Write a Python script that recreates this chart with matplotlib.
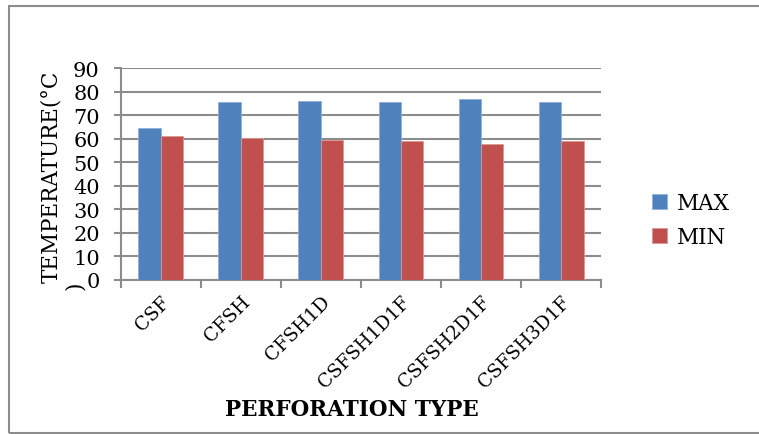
import numpy as np
import matplotlib
matplotlib.use("Agg")
import matplotlib.pyplot as plt
from matplotlib.patches import Rectangle

# data
categories = ["CSF", "CFSH", "CFSH1D", "CSFSH1D1F", "CSFSH2D1F", "CSFSH3D1F"]
max_temp = [64.6, 75.6, 76.1, 75.5, 76.9, 75.5]
min_temp = [61.0, 60.2, 59.6, 59.2, 57.6, 59.2]
y_ticks = [0, 10, 20, 30, 40, 50, 60, 70, 80, 90]

plt.rcParams['font.family'] = ['DejaVu Serif']

fig = plt.figure(figsize=(7.59, 4.35), dpi=100)
ax = fig.add_axes([0.159, 0.3547, 0.633, 0.486])

x = np.arange(len(categories))
w = 0.28
ax.bar(x - w / 2, max_temp, w, color="#4F81BD", edgecolor="#8FB0DC", linewidth=0.6, label="MAX", zorder=3)
ax.bar(x + w / 2, min_temp, w, color="#C0504D", edgecolor="#DA9694", linewidth=0.6, label="MIN", zorder=3)

ax.set_xlim(-0.5, len(categories) - 0.5)
ax.set_ylim(0, 90)
ax.set_yticks(y_ticks)
ax.set_yticklabels([str(v) for v in y_ticks], fontsize=15)
ax.yaxis.grid(True, color="#8C8C8C", linewidth=1.5, zorder=0)
ax.set_axisbelow(True)

# x ticks between categories, labels at centers
ax.set_xticks(np.arange(-0.5, len(categories), 1.0))
ax.set_xticklabels([])
ax.set_xticks(x, minor=True)
ax.set_xticklabels(categories, minor=True, rotation=45, ha="right", va="top",
                   rotation_mode="anchor", fontsize=13.5)
ax.tick_params(axis="x", which="minor", length=0, pad=9)
ax.tick_params(axis="x", which="major", length=6, width=1.5, color="#8C8C8C")
ax.tick_params(axis="y", length=5, width=1.5, color="#8C8C8C", pad=10)

for s in ["top", "right"]:
    ax.spines[s].set_visible(False)
for s in ["left", "bottom"]:
    ax.spines[s].set_color("#8C8C8C")
    ax.spines[s].set_linewidth(1.5)

fig.text(0.464, 0.057, "PERFORATION TYPE", fontsize=15.5, fontweight="bold",
         ha="center", va="center")
fig.text(0.067, 0.349, "TEMPERATURE(°C", fontsize=15.5, rotation=90,
         ha="center", va="bottom")
fig.text(0.099, 0.333, ")", fontsize=15.5, rotation=90,
         ha="center", va="bottom")

fig.legend(loc="center left", bbox_to_anchor=(0.859, 0.492), frameon=False,
           borderaxespad=0, borderpad=0,
           fontsize=15.5, handlelength=0.7, handleheight=0.7, handletextpad=0.45,
           labelspacing=0.54)

fig.patches.append(Rectangle((0.012, 0.003), 1.0, 0.981, transform=fig.transFigure,
                             fill=False, edgecolor="#8C8C8C", linewidth=1.5))

fig.savefig("out.png", dpi=100)
